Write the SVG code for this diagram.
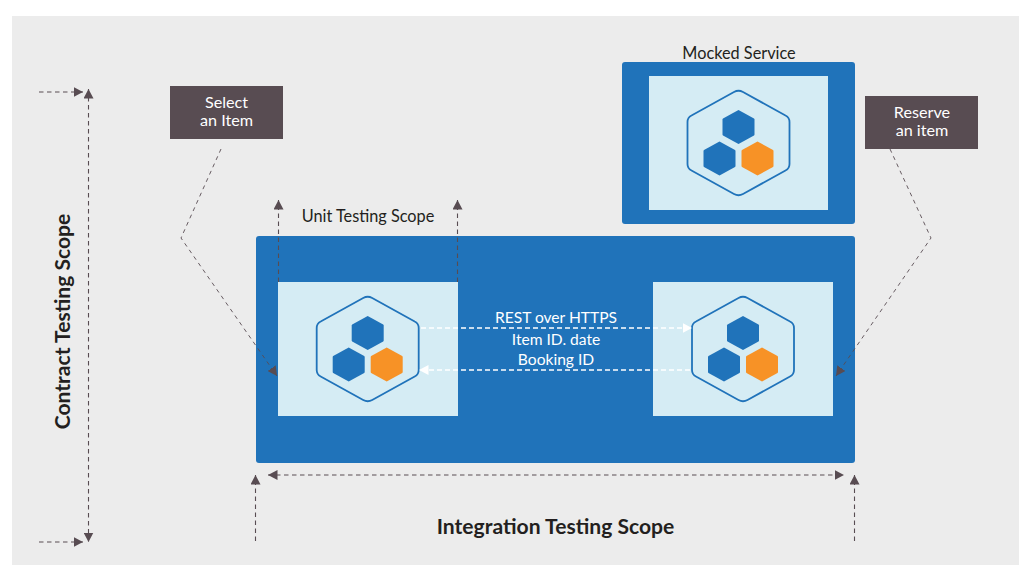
<svg xmlns="http://www.w3.org/2000/svg" xmlns:xlink="http://www.w3.org/1999/xlink" width="1027" height="576" viewBox="0 0 1027 576">
<style>
text{font-family:"Lato","Open Sans","Liberation Sans",sans-serif;text-anchor:middle}
.lbl{font-size:16.3px;fill:#231f20}
.w{font-size:16.200px;fill:#fff}
.m{font-size:15.600px;fill:#fff}
.b{font-size:21.100px;font-weight:700;fill:#231f20}
.panel{fill:#2073ba}
.inner{fill:#d5ecf4}
.tag{fill:#584c52}
.d{fill:none;stroke:#584c52;stroke-width:1.1;stroke-dasharray:4.500 3.500}
.t{fill:none;stroke:#584c52;stroke-width:.9;stroke-dasharray:4 4}
.wd{fill:none;stroke:#fff;stroke-width:1.3;stroke-dasharray:5 3}
</style>
<defs>
<marker id="a" markerUnits="userSpaceOnUse" markerWidth="11" markerHeight="10" refX="9.500" refY="5" orient="auto-start-reverse"><path d="M0 0L9.500 5L0 10Z" fill="#584c52"/></marker>
<marker id="aw" markerUnits="userSpaceOnUse" markerWidth="11" markerHeight="10" refX="9.500" refY="5" orient="auto"><path d="M0 0L9.500 5L0 10Z" fill="#fff"/></marker>
<g id="hex">
<path d="M-4.500 -51Q0 -53.500 4.500 -51L47 -27.500Q51 -25.500 51 -21V21Q51 25.500 47 27.500L4.500 51Q0 53.500 -4.500 51L-47 27.500Q-51 25.500 -51 21V-21Q-51 -25.500 -47 -27.500Z" fill="none" stroke="#2073ba" stroke-width="1.800"/>
<path d="M0 -33L15.500 -24.500Q16 -24 16 -23.500V-8.500Q16 -8 15.500 -7.500L0 1L-15.500 -7.500Q-16 -8 -16 -8.500V-23.500Q-16 -24 -15.500 -24.500Z" fill="#2073ba"/>
<path d="M-19 -1.500L-3.500 7Q-3 7.500 -3 8V23Q-3 23.500 -3.500 24L-19 32.500L-34.500 24Q-35 23.500 -35 23V8Q-35 7.500 -34.500 7Z" fill="#2073ba"/>
<path d="M19 -1.500L34.500 7Q35 7.500 35 8V23Q35 23.500 34.500 24L19 32.500L3.500 24Q3 23.500 3 23V8Q3 7.500 3.500 7Z" fill="#f79226"/>
</g>
</defs>
<rect width="1027" height="576" fill="#fff"/>
<rect x="12" y="16" width="1007" height="549" fill="#ececec"/>

<g id="integration-panel"><rect class="panel" x="256" y="236" width="599" height="227" rx="3"/></g>
<g id="mocked-service">
<text class="lbl" x="739" y="58.500">Mocked Service</text>
<rect class="panel" x="622" y="62" width="233" height="162" rx="3"/>
<rect class="inner" x="649" y="76" width="179" height="134"/>
<use xlink:href="#hex" href="#hex" x="738.500" y="143"/>
</g>
<g id="consumer-service">
<rect class="inner" x="278" y="282" width="180" height="134"/>
<use xlink:href="#hex" href="#hex" x="367.700" y="349"/>
</g>
<g id="provider-service">
<rect class="inner" x="653" y="282" width="180" height="134"/>
<use xlink:href="#hex" href="#hex" x="743" y="349"/>
</g>
<g id="select-item">
<rect class="tag" x="170" y="86" width="113" height="53"/>
<text class="w" x="226.500" y="108">Select</text>
<text class="w" x="226.500" y="126">an Item</text>
</g>
<g id="reserve-item">
<rect class="tag" x="865" y="96" width="113" height="53"/>
<text class="w" x="922" y="117.500">Reserve</text>
<text class="w" x="922" y="135.500">an item</text>
</g>

<g id="connectors">
<path class="d" d="M39 92H83" marker-end="url(#a)"/>
<path class="d" d="M39 542H83" marker-end="url(#a)"/>
<path class="d" d="M88.500 89V542" marker-start="url(#a)" marker-end="url(#a)"/>
<path class="t" d="M221 149L181 238L277 376" marker-end="url(#a)"/>
<path class="t" d="M890 149L931 238L836 376" marker-end="url(#a)"/>
<path class="d" d="M278.500 282V200" marker-end="url(#a)"/>
<path class="d" d="M457.500 282V200" marker-end="url(#a)"/>
<path class="d" d="M255.500 541V475" marker-end="url(#a)"/>
<path class="d" d="M854.500 541V475" marker-end="url(#a)"/>
<path class="d" d="M268 475H844" marker-start="url(#a)" marker-end="url(#a)"/>
<path class="wd" d="M421 328H692" marker-end="url(#aw)"/>
<path class="wd" d="M690 370H419" marker-end="url(#aw)"/>
</g>

<g id="labels">
<text class="lbl" x="368" y="221.500">Unit Testing Scope</text>
<text class="m" x="556" y="322.500">REST over HTTPS</text>
<text class="m" x="556" y="344.500">Item ID. date</text>
<text class="m" x="556" y="365">Booking ID</text>
<text class="b" x="555.500" y="534">Integration Testing Scope</text>
<text class="b" transform="translate(69.500 321.500) rotate(-90)">Contract Testing Scope</text>
</g>
</svg>
